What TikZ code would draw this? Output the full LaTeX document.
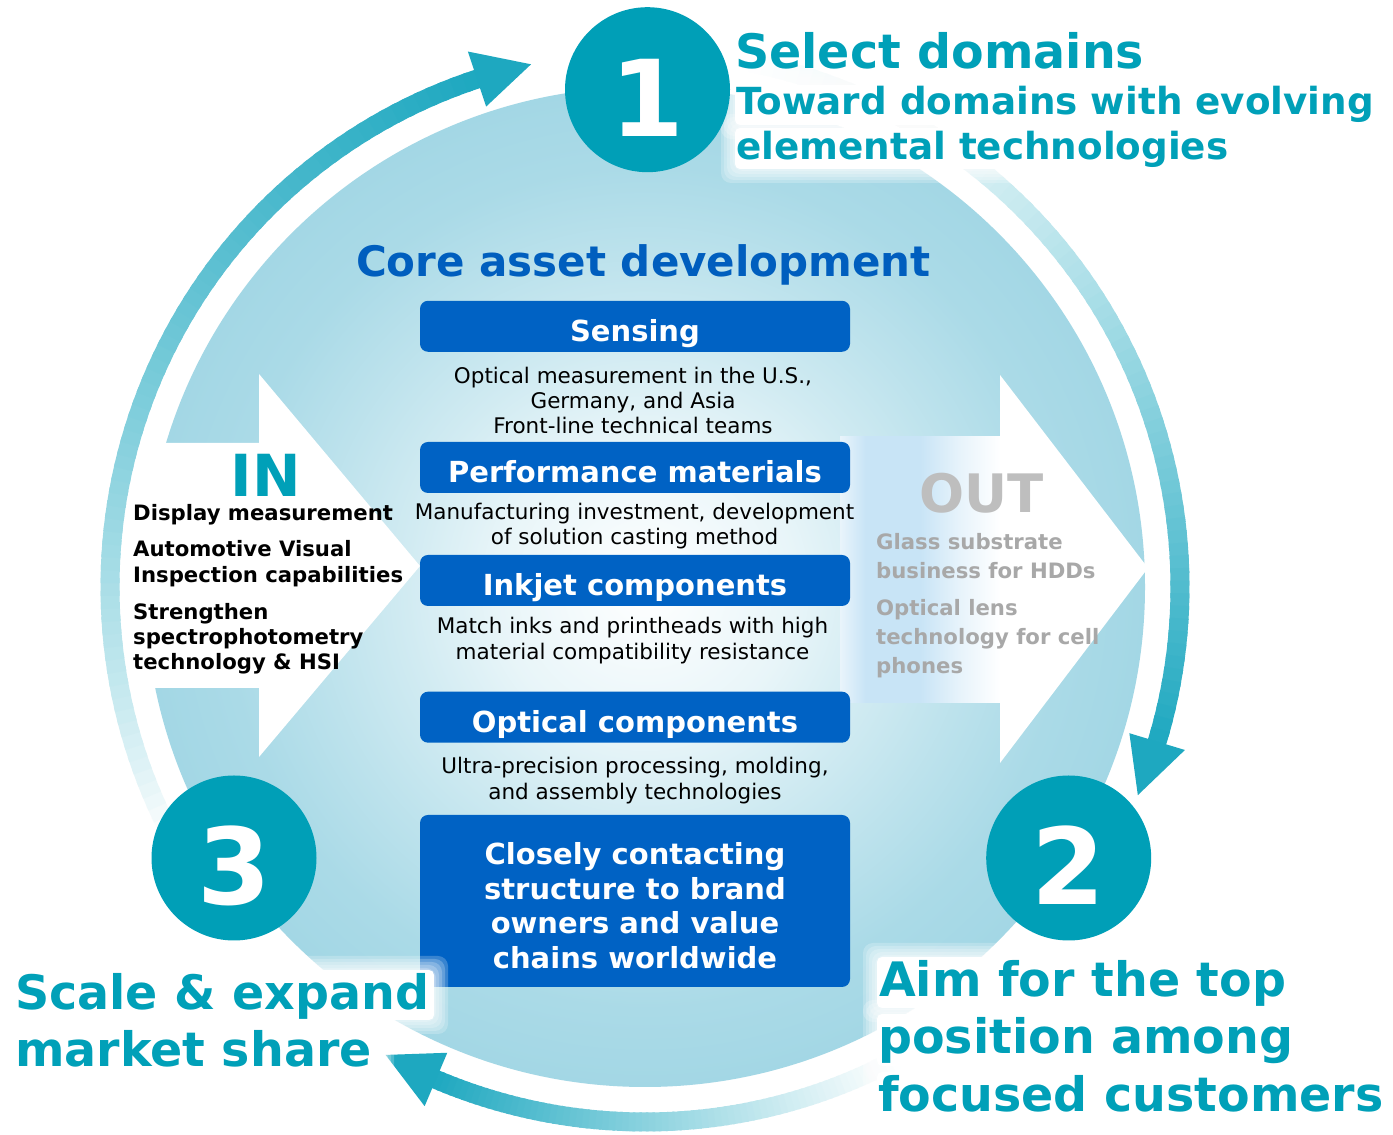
\documentclass[tikz,border=0pt]{standalone}
\usepackage{fontspec}
\setmainfont{DejaVu Sans}
\usetikzlibrary{calc}
\definecolor{tealtext}{RGB}{0,160,184}
\definecolor{circc}{RGB}{0,159,183}
\definecolor{ringteal}{RGB}{30,168,192}
\definecolor{boxblue}{RGB}{0,98,196}
\definecolor{coreblue}{RGB}{0,94,190}
\definecolor{disc}{RGB}{163,215,229}
\definecolor{outblue}{RGB}{200,228,246}
\definecolor{outgray}{RGB}{190,190,190}
\definecolor{listgray}{RGB}{168,168,168}
\colorlet{discA}{disc!25!white}
\colorlet{discB}{disc!50!white}
\colorlet{discC}{disc!72!white}
\colorlet{discD}{disc!92!white}
\colorlet{outA}{outblue!40!white}
\colorlet{outB}{outblue!45!white}
\pgfdeclareradialshading{discshade}{\pgfpoint{0bp}{0bp}}{color(0bp)=(white); color(7.5bp)=(discA); color(12bp)=(discB); color(16.5bp)=(discC); color(21bp)=(discD); color(25bp)=(disc); color(50bp)=(disc)}
\pgfdeclarehorizontalshading{outshade}{100bp}{color(0bp)=(outA); color(25bp)=(outA); color(33bp)=(outblue); color(50bp)=(outblue); color(62bp)=(outB); color(75bp)=(white); color(100bp)=(white)}
\tikzset{
  boxhead/.style={rectangle, rounded corners=8pt, fill=boxblue, minimum width=430pt, minimum height=51pt, inner sep=0pt, text=white, font=\fontsize{29}{34}\selectfont\bfseries, text height=31pt, text depth=0.4pt},
  bigbox/.style={rectangle, rounded corners=8pt, fill=boxblue, minimum width=430pt, minimum height=172pt, inner sep=0pt},
  bodytxt/.style={anchor=base, inner sep=0pt, text=black, font=\fontsize{21.5}{25}\selectfont},
  closetxt/.style={anchor=base, inner sep=0pt, text=white, font=\fontsize{29}{34}\selectfont\bfseries},
  numcirc/.style={circle, fill=circc, minimum size=165pt, inner sep=0pt, text=white, font=\fontsize{106}{110}\selectfont\bfseries, text height=94pt, text depth=0pt},
  bigtitle/.style={anchor=base west, inner sep=0pt, text=tealtext, font=\fontsize{47.5}{55}\selectfont\bfseries},
  subtitle/.style={anchor=base west, inner sep=0pt, text=tealtext, font=\fontsize{37.3}{44}\selectfont\bfseries},
  inlist/.style={anchor=base west, inner sep=0pt, text=black, font=\fontsize{21.2}{25}\selectfont\bfseries},
  outlist/.style={anchor=base west, inner sep=0pt, text=listgray, font=\fontsize{21.2}{25}\selectfont\bfseries},
  inout/.style={anchor=base, inner sep=0pt, font=\fontsize{53}{60}\selectfont\bfseries},
}
% #1 start angle, #2 head base angle, #3 tip angle, #4 fade exponent
\newcommand\ringarrow[4]{%
  \foreach \i in {0,...,71}{%
    \pgfmathsetmacro\ringA{#1+(#2-#1)*\i/72}%
    \pgfmathsetmacro\ringB{#1+(#2-#1)*(\i+1.4)/72}%
    \pgfmathsetmacro\ringP{100*((\i+0.5)/72)^#4}%
    \draw[line width=19pt, ringteal!\ringP!white] ($(C)+(\ringA:535)$) arc[start angle=\ringA, end angle=\ringB, radius=535];
  }%
  \fill[ringteal] ($(C)+(#2:506)$) -- ($(C)+(#3:535)$) -- ($(C)+(#2:564)$) -- cycle;
}
\newcommand\glowrect[4]{%
  \foreach \g in {14,11,8,5,2}{\fill[white, opacity=0.22, rounded corners=10pt] (#1-\g,#2-\g) rectangle (#3+\g,#4+\g);}%
  \fill[white, rounded corners=5pt] (#1,#2) rectangle (#3,#4);
}
\begin{document}
\begin{tikzpicture}[x=1pt,y=1pt]
\useasboundingbox (0,0) rectangle (1393,1135);
\fill[white] (0,0) rectangle (1393,1135);
\coordinate (C) at (645,548);
% disc
\shade[shading=discshade] (C) circle (500);
% cycle arrows
\ringarrow{207}{108.3}{102.3}{0.75}
\ringarrow{80}{-16.8}{-22.9}{1.35}
\ringarrow{298}{247}{241}{1.1}
% IN arrow
\begin{scope}
  \clip (C) circle (514);
  \fill[white] (100,692) -- (259,692) -- (259,761) -- (420,569) -- (259,378) -- (259,447) -- (100,447) -- cycle;
\end{scope}
% OUT arrow
\fill[white] (1000,698) -- (1000,760) -- (1148,567) -- (1000,372) -- (1000,432) -- cycle;
\shade[shading=outshade] (840,432) rectangle (1000,698);
% core title
\node[anchor=base, inner sep=0pt, text=coreblue, font=\fontsize{42}{48}\selectfont\bfseries] (core) at (643.5,858.3) {Core asset development};
% boxes
\node[boxhead] (sensing) at (635,808.7) {Sensing};
\node[boxhead] (perf) at (635,667.5) {Performance materials};
\node[boxhead] (inkjet) at (635,554.5) {Inkjet components};
\node[boxhead] (optical) at (635,417.8) {Optical components};
\node[bigbox] (closebox) at (635,234) {};
% body texts
\node[bodytxt] (s1) at (633,751.7) {Optical measurement in the U.S.,};
\node[bodytxt] (s2) at (633,726.7) {Germany, and Asia};
\node[bodytxt] (s3) at (633,701.7) {Front-line technical teams};
\node[bodytxt] (p1) at (634.5,615) {Manufacturing investment, development};
\node[bodytxt] (p2) at (634.5,590) {of solution casting method};
\node[bodytxt] (k1) at (632.5,501.7) {Match inks and printheads with high};
\node[bodytxt] (k2) at (632.5,475.7) {material compatibility resistance};
\node[bodytxt] (o1) at (635,361.7) {Ultra-precision processing, molding,};
\node[bodytxt] (o2) at (635,335.7) {and assembly technologies};
\node[closetxt] (c1) at (635,270) {Closely contacting};
\node[closetxt] (c2) at (635,235.5) {structure to brand};
\node[closetxt] (c3) at (635,201) {owners and value};
\node[closetxt] (c4) at (635,166.7) {chains worldwide};
% IN
\node[inout, text=tealtext, font=\fontsize{58}{64}\selectfont\bfseries] (intitle) at (266,638.3) {IN};
\node[inlist] (in1) at (133,614) {Display measurement};
\node[inlist] (in2a) at (133,578.3) {Automotive Visual};
\node[inlist] (in2b) at (133,552.7) {Inspection capabilities};
\node[inlist] (in3a) at (133,515.7) {Strengthen};
\node[inlist] (in3b) at (133,490) {spectrophotometry};
\node[inlist] (in3c) at (133,465.7) {technology \& HSI};
% OUT
\node[inout, text=outgray] (outtitle) at (981.5,622.3) {OUT};
\node[outlist] (out1a) at (876,585) {Glass substrate};
\node[outlist] (out1b) at (876,556.7) {business for HDDs};
\node[outlist] (out2a) at (876,519) {Optical lens};
\node[outlist] (out2b) at (876,490) {technology for cell};
\node[outlist] (out2c) at (876,461.7) {phones};
% glows behind titles
\glowrect{735}{1010}{1383}{1050}
\glowrect{735}{966}{1226}{1007}
\glowrect{15}{115}{434}{165}
\glowrect{15}{59}{380}{108}
\glowrect{877}{127}{1288}{178}
\glowrect{877}{69}{1298}{121}
\glowrect{877}{17}{1388}{63}
% numbered circles
\node[numcirc] (n1) at (647.5,1045.3) {1};
\node[numcirc] (n2) at (1068.7,277) {2};
\node[numcirc] (n3) at (234,277) {3};
% titles
\node[bigtitle] (t1a) at (735,1066) {Select domains};
\node[subtitle] (t1b) at (736,1020) {Toward domains with evolving};
\node[subtitle] (t1c) at (736,975) {elemental technologies};
\node[bigtitle] (t3a) at (15,125) {Scale \& expand};
\node[bigtitle] (t3b) at (15,68.3) {market share};
\node[bigtitle] (t2a) at (879,138.3) {Aim for the top};
\node[bigtitle] (t2b) at (878,81) {position among};
\node[bigtitle] (t2c) at (878,23.3) {focused customers};
\end{tikzpicture}
\end{document}
